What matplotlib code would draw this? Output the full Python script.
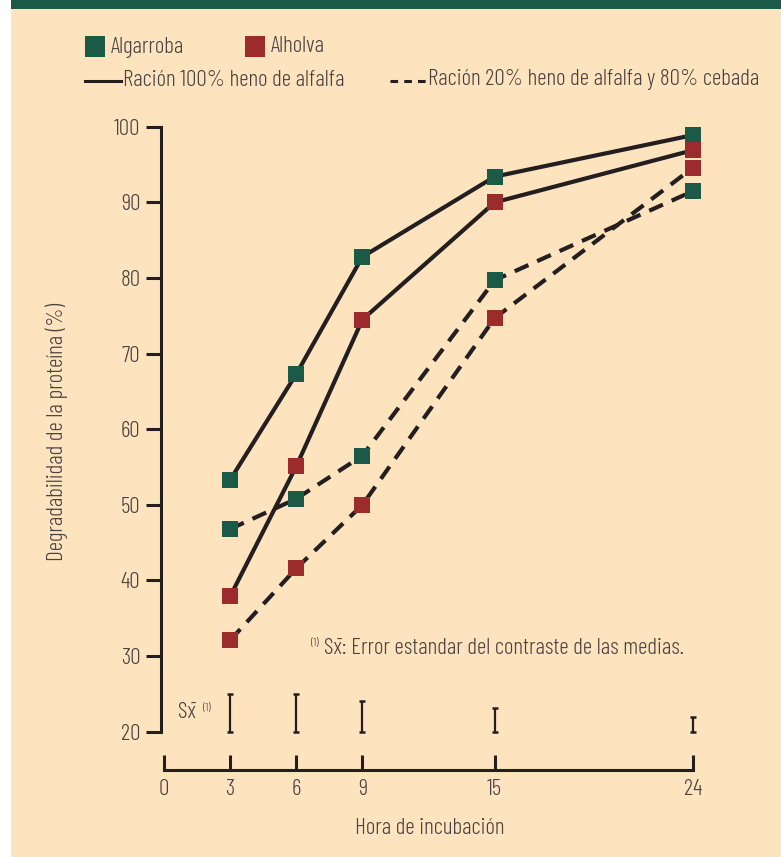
import matplotlib
matplotlib.use("Agg")
import matplotlib.pyplot as plt
from matplotlib.patches import Rectangle
from matplotlib.lines import Line2D

plt.rcParams['font.family'] = ['Barlow Condensed', 'DejaVu Sans']
plt.rcParams['font.weight'] = 300

# ---- data ----
hours = [3, 6, 9, 15, 24]
alg_100 = [53.3, 67.3, 82.8, 93.4, 98.9]
alh_100 = [37.9, 55.1, 74.5, 90.0, 96.9]
alg_20 = [46.8, 50.8, 56.5, 79.7, 91.5]
alh_20 = [32.1, 41.6, 50.0, 74.7, 94.6]
sx_upper = [25.0, 25.0, 24.0, 23.1, 22.0]
sx_base = 20.0
xticks = [0, 3, 6, 9, 15, 24]
yticks = [20, 30, 40, 50, 60, 70, 80, 90, 100]

# ---- style ----
W, H = 781, 857
BG = '#fee3bf'
GREEN = '#1b5a46'
RED = '#9c2c2c'
INK = '#231f20'
TXT = '#4a4243'
FS = 16.7

fig = plt.figure(figsize=(W / 100, H / 100), dpi=100, facecolor='white')

def fx(x):
    return x / W

def fy(y):
    return 1 - y / H

# background panel and top band
fig.add_artist(Rectangle((fx(11), 0), 1 - fx(11), 1, transform=fig.transFigure,
                         facecolor=BG, edgecolor='none', zorder=0))
fig.add_artist(Rectangle((fx(11), fy(9)), 1 - fx(11), 9 / H, transform=fig.transFigure,
                         facecolor=GREEN, edgecolor='none', zorder=1))

# axes: data x h -> px 164 + 22.05 h ; value v -> px 731.7 - 7.5625 (v - 20)
x0, x1 = -0.14, 25.0
y0, y1 = 15.0, 101.0
left_px = 164 + 22.05 * x0
right_px = 164 + 22.05 * x1
bot_px = 731.7 - 7.5625 * (y0 - 20)
top_px = 731.7 - 7.5625 * (y1 - 20)
ax = fig.add_axes([fx(left_px), fy(bot_px), fx(right_px) - fx(left_px), fy(top_px) - fy(bot_px)])
ax.set_facecolor('none')
ax.set_xlim(x0, x1)
ax.set_ylim(y0, y1)

for s in ['top', 'right']:
    ax.spines[s].set_visible(False)
ax.spines['left'].set_bounds(20, 100)
ax.spines['bottom'].set_bounds(0, 24)
for s in ['left', 'bottom']:
    ax.spines[s].set_linewidth(2.2)
    ax.spines[s].set_color(INK)

ax.set_xticks(xticks)
ax.set_yticks(yticks)
ax.tick_params(axis='y', direction='out', length=10.8, width=2.2, color=INK,
               labelsize=FS, labelcolor=TXT, pad=4)
ax.tick_params(axis='x', direction='in', length=10.8, width=2.2, color=INK,
               labelsize=FS, labelcolor=TXT, pad=7)

lw = 3.0
dash = (3.6, 2.3)
ax.plot(hours, alg_100, color=INK, lw=lw, zorder=2, solid_capstyle='butt')
ax.plot(hours, alh_100, color=INK, lw=lw, zorder=2, solid_capstyle='butt')
ax.plot(hours, alg_20, color=INK, lw=lw, zorder=2, dashes=dash)
ax.plot(hours, alh_20, color=INK, lw=lw, zorder=2, dashes=dash)

ms = 11.5
for ys, c in [(alg_100, GREEN), (alg_20, GREEN), (alh_20, RED), (alh_100, RED)]:
    ax.plot(hours, ys, linestyle='none', marker='s', markersize=ms,
            markerfacecolor=c, markeredgewidth=0, zorder=3)

# standard error bars
ax.vlines(hours, [sx_base] * len(hours), sx_upper, color=INK, lw=1.6, zorder=2)
ax.plot(hours, [sx_base] * len(hours), linestyle='none', marker='_', markersize=4.5,
        markeredgewidth=1.8, color=INK, zorder=2)
ax.plot(hours, sx_upper, linestyle='none', marker='_', markersize=4.5,
        markeredgewidth=1.8, color=INK, zorder=2)

# axis labels
fig.text(fx(57), fy(432), 'Degradabilidad de la proteína (%)', rotation=90,
         ha='center', va='center', fontsize=FS, color=TXT)
fig.text(fx(430), fy(828), 'Hora de incubación', ha='center', va='center',
         fontsize=FS, color=TXT)

# Sx annotations
fig.text(fx(178), fy(712), 'Sx\u0304', ha='left', va='center', fontsize=FS, color=TXT)
fig.text(fx(203), fy(708), '(1)', ha='left', va='center', fontsize=8.5, color=TXT)
fig.text(fx(311), fy(643), '(1)', ha='left', va='center', fontsize=8.5, color=TXT)
fig.text(fx(324), fy(648), 'Sx\u0304: Error estandar del contraste de las medias.',
         ha='left', va='center', fontsize=FS, color=TXT)

# legend
fig.add_artist(Rectangle((fx(85), fy(57)), 20 / W, 21 / H, transform=fig.transFigure,
                         facecolor=GREEN, edgecolor='none'))
fig.text(fx(111), fy(47), 'Algarroba', ha='left', va='center', fontsize=FS, color=TXT)
fig.add_artist(Rectangle((fx(245), fy(57)), 20 / W, 21 / H, transform=fig.transFigure,
                         facecolor=RED, edgecolor='none'))
fig.text(fx(271), fy(47), 'Alholva', ha='left', va='center', fontsize=FS, color=TXT)
fig.add_artist(Line2D([fx(85), fx(121)], [fy(81), fy(81)], transform=fig.transFigure,
                      color=INK, lw=2.2))
fig.text(fx(123), fy(80), 'Ración 100% heno de alfalfa', ha='left', va='center',
         fontsize=FS, color=TXT)
fig.add_artist(Line2D([fx(390), fx(426)], [fy(81), fy(81)], transform=fig.transFigure,
                      color=INK, lw=2.2, dashes=(2.5, 2.0)))
fig.text(fx(428), fy(80), 'Ración 20% heno de alfalfa y 80% cebada', ha='left', va='center',
         fontsize=FS, color=TXT)

fig.savefig('out.png', dpi=100, facecolor='white')
